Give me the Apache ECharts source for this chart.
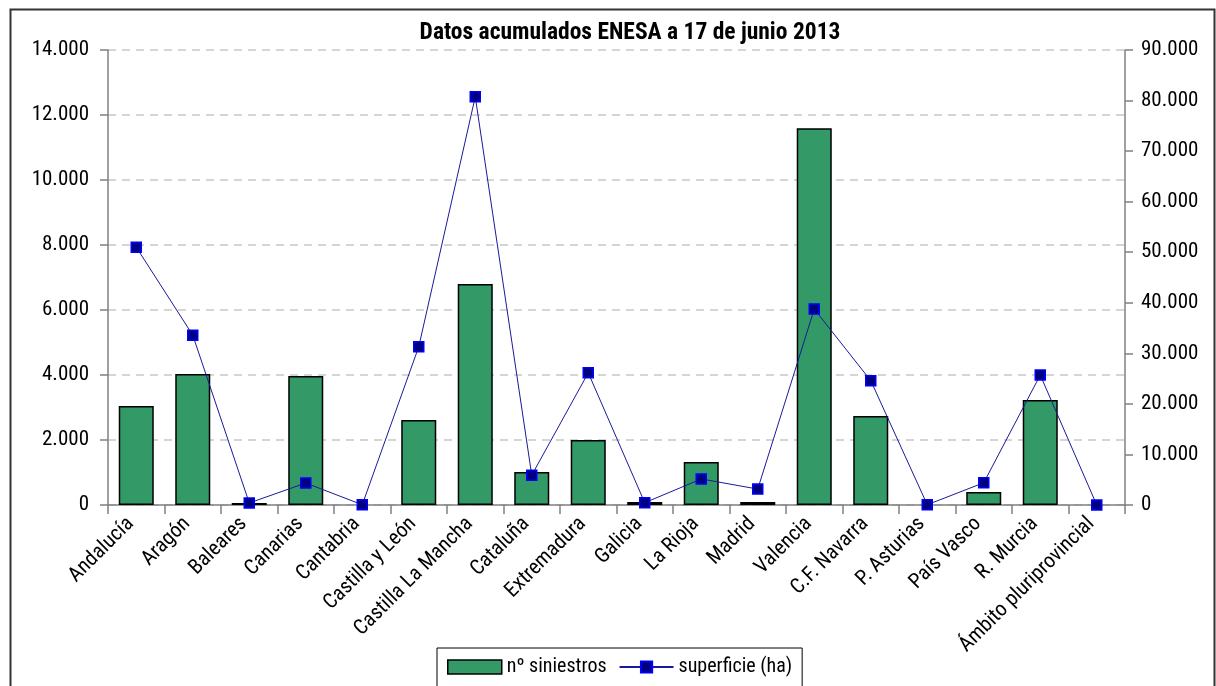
<!DOCTYPE html>
<html><head><meta charset="utf-8">
<script src="https://cdn.jsdelivr.net/npm/echarts@6/dist/echarts.min.js"></script>
<style>html,body{margin:0;padding:0;background:#fff}#c{width:1216px;height:686px}</style>
</head><body><div id="c"></div>
<script>
const categories = ["Andalucía","Aragón","Baleares","Canarias","Cantabria","Castilla y León","Castilla La Mancha","Cataluña","Extremadura","Galicia","La Rioja","Madrid","Valencia","C.F. Navarra","P. Asturias","País Vasco","R. Murcia","Ámbito pluriprovincial"];
const siniestros = [3050, 4030, 60, 3970, 0, 2615, 6800, 1015, 2000, 90, 1320, 90, 11590, 2740, 0, 400, 3230, 0];
const superficie = [51000, 33600, 400, 4350, 50, 31300, 80750, 5900, 26150, 450, 5150, 3150, 38750, 24600, 50, 4400, 25700, 0];
const leftTicks = [0, 2000, 4000, 6000, 8000, 10000, 12000, 14000];
const rightTicks = [0, 10000, 20000, 30000, 40000, 50000, 60000, 70000, 80000, 90000];

const FONT = '"Roboto Condensed", "Liberation Sans", sans-serif';
function fmt(v){ return String(Math.round(v)).replace(/\B(?=(\d{3})+(?!\d))/g, '.'); }

const chart = echarts.init(document.getElementById('c'), null, {renderer:'canvas'});
chart.setOption({
  animation: false,
  backgroundColor: '#fff',
  textStyle: { fontFamily: FONT, color: '#000' },
  title: {
    text: 'Datos acumulados ENESA a 17 de junio 2013',
    left: 625, top: 16, textAlign: 'center',
    textStyle: { fontFamily: FONT, fontSize: 23.5, fontWeight: 'bold', color: '#000' }
  },
  graphic: [{
    type: 'rect', left: 8, top: 7, shape: { width: 1204, height: 700 },
    style: { fill: 'none', stroke: '#333', lineWidth: 2 }, z: -1, silent: true
  }],
  legend: {
    left: 437, top: 648,
    borderColor: '#000', borderWidth: 1,
    padding: [9, 10, 40, 10],
    itemGap: 12, itemWidth: 54, itemHeight: 14,
    textStyle: { fontFamily: FONT, fontSize: 20, color: '#000' },
    data: [
      { name: 'nº siniestros', icon: 'rect', itemStyle: { color: '#339966', borderColor: '#000', borderWidth: 1.5 } },
      { name: 'superficie (ha)' }
    ]
  },
  grid: { left: 108, right: 91, top: 50, bottom: 181, containLabel: false },
  xAxis: {
    type: 'category', data: categories,
    axisLine: { lineStyle: { color: '#808080', width: 1.5 } },
    axisTick: { show: true, length: 9, lineStyle: { color: '#808080', width: 1.5 } },
    axisLabel: { rotate: 45, interval: 0, fontSize: 21, color: '#000', fontFamily: FONT, margin: 10,
      padding: [0, 8, 0, 0] }
  },
  yAxis: [{
    type: 'value', min: 0, max: 14000, interval: 2000,
    axisLine: { show: true, lineStyle: { color: '#808080', width: 1.5 } },
    axisTick: { show: true, length: 8, lineStyle: { color: '#808080', width: 1.5 } },
    splitLine: { show: true, lineStyle: { color: '#c8c8c8', type: [8, 6], width: 1.5 } },
    axisLabel: { fontSize: 21, color: '#000', fontFamily: FONT, margin: 19,
      formatter: v => leftTicks.includes(v) ? fmt(v) : '' }
  }, {
    type: 'value', min: 0, max: 90000, interval: 10000, position: 'right',
    axisLine: { show: true, lineStyle: { color: '#808080', width: 1.5 } },
    axisTick: { show: true, length: 8, lineStyle: { color: '#808080', width: 1.5 } },
    splitLine: { show: false },
    axisLabel: { fontSize: 21, color: '#000', fontFamily: FONT, margin: 16,
      formatter: v => rightTicks.includes(v) ? fmt(v) : '' }
  }],
  series: [{
    name: 'nº siniestros', type: 'bar', yAxisIndex: 0,
    data: siniestros.map(v => v === 0 ? { value: v, itemStyle: { borderWidth: 0 } } : v),
    barWidth: '62%',
    itemStyle: { color: '#339966', borderColor: '#000', borderWidth: 1.5 }
  }, {
    name: 'superficie (ha)', type: 'line', yAxisIndex: 1, data: superficie,
    symbol: 'rect', symbolSize: 10, showAllSymbol: true,
    lineStyle: { color: '#1a1a99', width: 1 },
    itemStyle: { color: '#000080', borderColor: '#0000ff', borderWidth: 1.5 },
    z: 3
  }]
});
</script></body></html>
